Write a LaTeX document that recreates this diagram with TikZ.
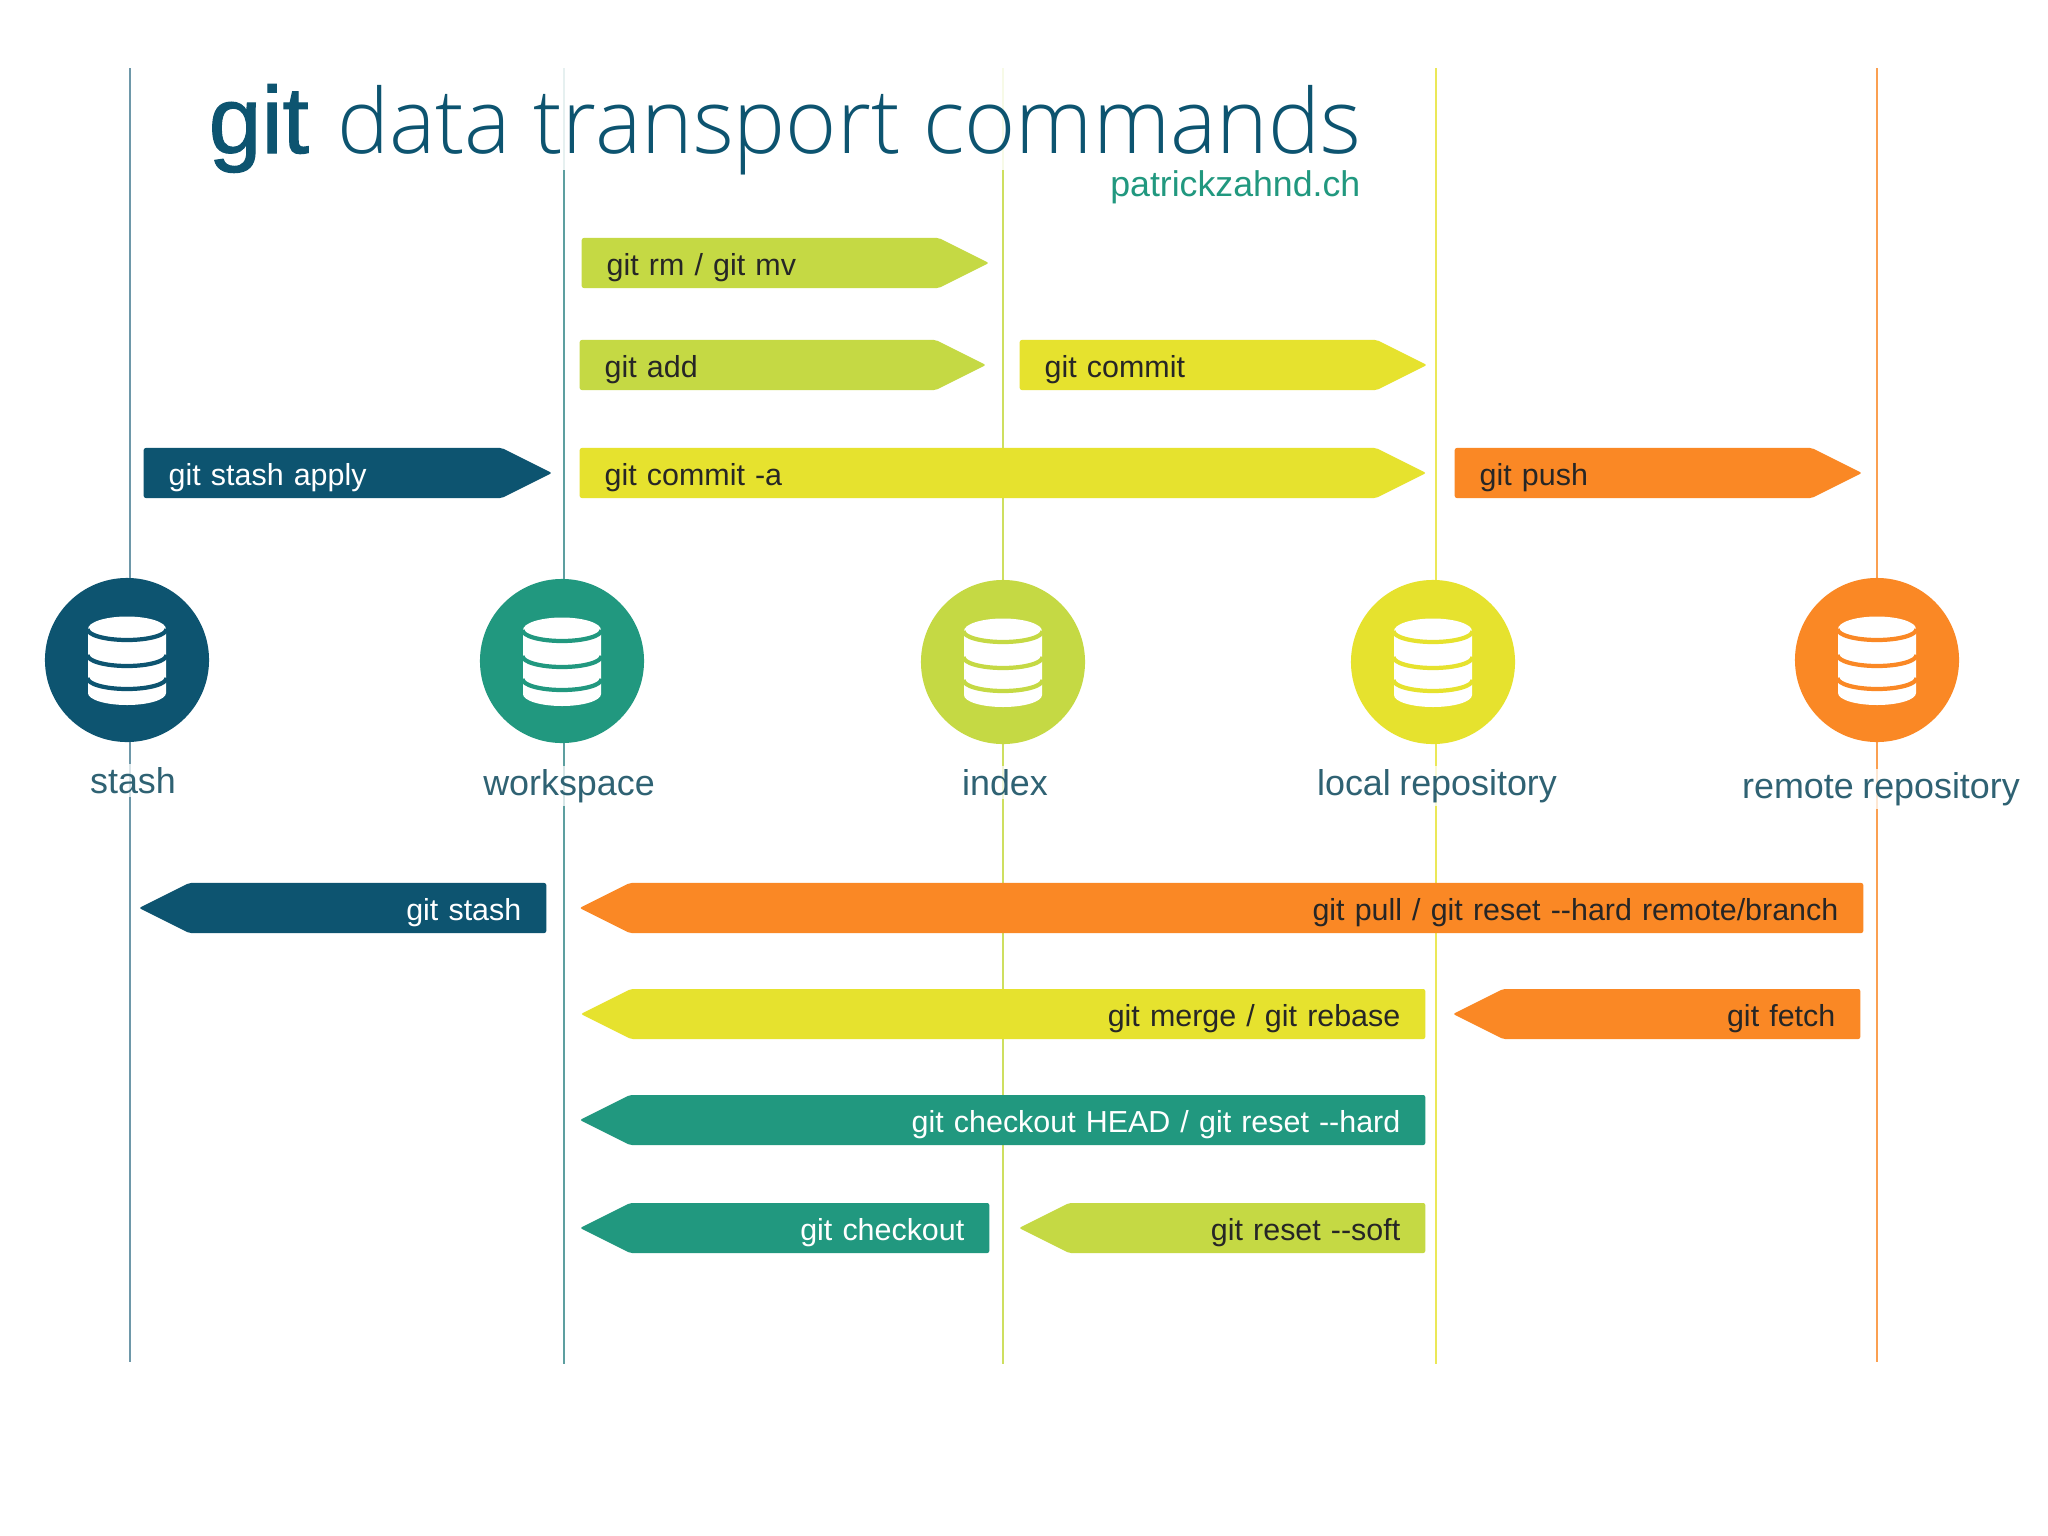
\documentclass[tikz,border=0pt]{standalone}
\usepackage{fontspec}
\setmainfont[WordSpace=0.85]{Liberation Sans}
\newfontfamily\titlelight[FakeStretch=0.975]{Open Sans Light}
\newfontfamily\titlegit[FakeBold=1.2]{Liberation Sans}
\usetikzlibrary{shapes.symbols,positioning}
\definecolor{stashcol}{HTML}{0D5470}
\definecolor{workcol}{HTML}{21987F}
\definecolor{indexcol}{HTML}{C5D944}
\definecolor{localcol}{HTML}{E6E22E}
\definecolor{remotecol}{HTML}{FA8825}
\definecolor{labelcol}{HTML}{2F6273}
\begin{document}
\begin{tikzpicture}[x=0.01cm,y=-0.01cm,
  tip/.style={signal,signal pointer angle=53.13,minimum height=0.5cm,inner xsep=0.25cm,inner ysep=0pt,text height=0.25cm,text depth=0pt,rounded corners=0.6pt,text=black!85,font=\fontsize{8.65}{10}\selectfont},
  rarrow/.style={tip,signal to=east,signal from=nowhere,anchor=west,align=left},
  larrow/.style={tip,signal to=west,signal from=nowhere,anchor=east,align=right},
  place/.style={circle,fill=#1,minimum size=1.64cm,inner sep=0pt},
  lane/.style={line width=0.8pt},
  lbl/.style={anchor=base,fill=white,fill opacity=.75,text opacity=1,inner sep=1pt,text=labelcol,font=\fontsize{10.2}{12}\selectfont},
  pics/dbicon/.style={code={
    \fill[white] (-39,-31) arc[start angle=180,end angle=0,x radius=39,y radius=-12.5]
      -- (39,33) arc[start angle=0,end angle=-180,x radius=39,y radius=-12] -- cycle;
    \foreach \yy in {-31,-5,18}
      \draw[#1,line width=1.2pt] (-39.5,\yy) arc[start angle=180,end angle=360,x radius=39.5,y radius=-11];
  }}]
\useasboundingbox (0,0) rectangle (2048,1536);
\fill[white] (0,0) rectangle (2048,1536);
% lanes
\coordinate (stashtop) at (130,68);
\coordinate (stashbot) at (130,1362);
\coordinate (worktop) at (564,68);
\coordinate (workbot) at (564,1364);
\coordinate (indextop) at (1003,68);
\coordinate (indexbot) at (1003,1364);
\coordinate (localtop) at (1436,68);
\coordinate (localbot) at (1436,1364);
\coordinate (remotetop) at (1877,68);
\coordinate (remotebot) at (1877,1362);
\draw[lane,stashcol!60] (stashtop) -- (stashbot);
\draw[lane,workcol!50!stashcol!70] (worktop) -- (workbot);
\draw[lane,indexcol!85] (indextop) -- (indexbot);
\draw[lane,localcol!80] (localtop) -- (localbot);
\draw[lane,remotecol!80] (remotetop) -- (remotebot);
% title
\node[anchor=base west,inner sep=0pt,text height=0.85cm,text depth=0.17cm,fill=white,fill opacity=.85,text opacity=1,text=stashcol,font=\fontsize{25.5}{30}\selectfont] (title) at (208,153) {{\fontsize{27}{30}\titlegit git}\hspace{0.28cm}{\titlelight data transport commands}};
\node[anchor=base east,inner sep=0pt,text=workcol,font=\fontsize{10.15}{12}\selectfont] (site) at (1361,196) {patrickzahnd.ch};
% places
\node[place=stashcol] (stash) at (127,660) {};
\node[place=workcol] (work) at (562,661) {};
\node[place=indexcol] (index) at (1003,662) {};
\node[place=localcol] (local) at (1433,662) {};
\node[place=remotecol] (remote) at (1877,660) {};
\pic at (stash) {dbicon=stashcol};
\pic at (work) {dbicon=workcol};
\pic at (index) {dbicon=indexcol};
\pic at (local) {dbicon=localcol};
\pic at (remote) {dbicon=remotecol};
\node[lbl] (stashlbl) at (133,793) {stash};
\node[lbl] (worklbl) at (569,795) {workspace};
\node[lbl] (indexlbl) at (1005,795) {index};
\node[lbl] (locallbl) at (1437,795) {local repository};
\node[lbl] (remotelbl) at (1881,798) {remote repository};
% arrows to the right
\node[rarrow,fill=indexcol,text width=3.07cm] (rmmv) at (581,263) {git rm / git mv};
\node[rarrow,fill=indexcol,text width=3.06cm] (add) at (579,365) {git add};
\node[rarrow,fill=localcol,text width=3.07cm] (commit) at (1019,365) {git commit};
\node[rarrow,fill=stashcol,text=white,text width=3.08cm] (apply) at (143,473) {git stash apply};
\node[rarrow,fill=localcol,text width=7.46cm] (commita) at (579,473) {git commit -a};
\node[rarrow,fill=remotecol,text width=3.07cm] (push) at (1454,473) {git push};
% arrows to the left
\node[larrow,fill=stashcol,text=white,text width=3.07cm] (gitstash) at (547,908) {git stash};
\node[larrow,fill=remotecol,text width=11.83cm] (pull) at (1864,908) {git pull / git reset -{}-hard remote/branch};
\node[larrow,fill=localcol,text width=7.44cm] (merge) at (1426,1014) {git merge / git rebase};
\node[larrow,fill=remotecol,text width=3.07cm] (fetch) at (1861,1014) {git fetch};
\node[larrow,fill=workcol,text=white,text width=7.45cm] (head) at (1426,1120) {git checkout HEAD / git reset -{}-hard};
\node[larrow,fill=workcol,text=white,text width=3.09cm] (checkout) at (990,1228) {git checkout};
\node[larrow,fill=indexcol,text width=3.06cm] (soft) at (1426,1228) {git reset -{}-soft};
\end{tikzpicture}
\end{document}
